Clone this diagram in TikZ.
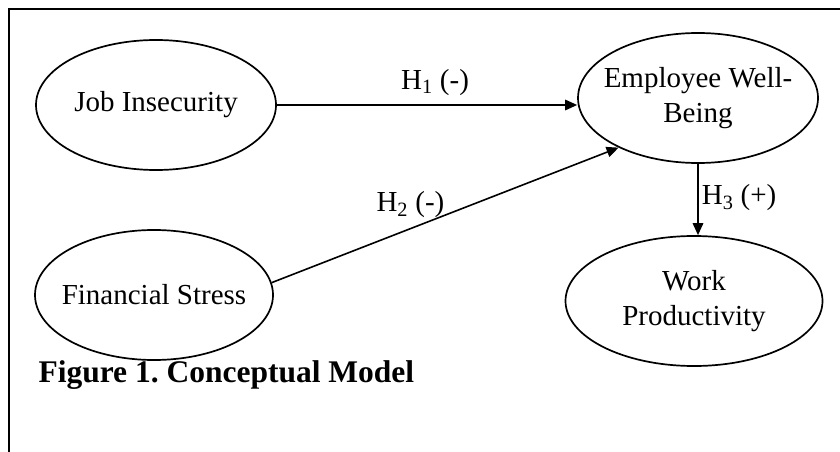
\documentclass[tikz,border=0pt]{standalone}
\usepackage{fontspec}
\setmainfont{Liberation Serif}
\usetikzlibrary{arrows.meta,shapes.geometric,positioning}

\begin{document}
\begin{tikzpicture}[
  x=1pt,y=-1pt,>={Triangle[length=12pt,width=10.5pt]},
  every node/.style={font=\fontsize{29}{35}\selectfont},
  construct/.style={ellipse,draw,line width=1.7pt,inner xsep=-20pt,inner ysep=0pt,
    minimum width=240pt,minimum height=130pt,align=center},
  link/.style={->,line width=1.6pt},
  hyp/.style={inner sep=3pt}
]
  \useasboundingbox (0,0) rectangle (840,452);
  % frame (open on the right and at the bottom)
  \draw[line width=2pt] (840,9) -- (9,9) -- (9,452);

  % constructs
  \node[construct] (job) at (156,105) {Job Insecurity};
  \node[construct,minimum width=238pt] (fin) at (154,295) {Financial Stress};
  \node[construct] (ewb) at (698,98) {Employee Well-\\Being};
  \node[construct,minimum width=257pt] (wp) at (694,301) {Work\\Productivity};

  % hypotheses
  \draw[link] (job.east) -- node[hyp,above=6pt,xshift=8pt]{H\textsubscript{1} (-)} (job.east -| ewb.west);
  \draw[link] (fin.6) -- node[hyp,pos=0.40,above=7pt]{H\textsubscript{2} (-)} (ewb.212);
  \draw[link] (ewb.south) -- node[hyp,right,yshift=2pt]{H\textsubscript{3} (+)} (ewb.south |- wp.north);

  % caption
  \node[anchor=base west,font=\fontsize{31.5}{38}\selectfont\bfseries] (cap) at (35,382) {Figure 1.\ Conceptual Model};
\end{tikzpicture}
\end{document}
